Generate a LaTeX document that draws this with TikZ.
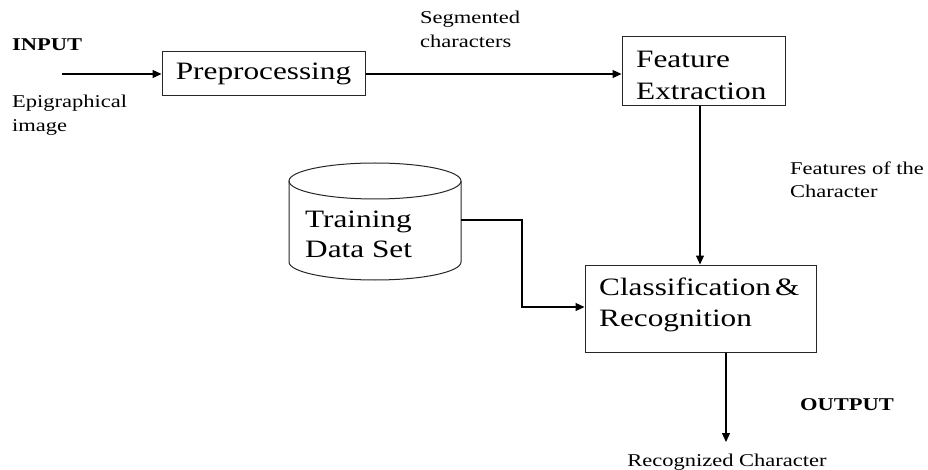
\documentclass[tikz,border=0pt]{standalone}
\usepackage{fontspec}
\setmainfont{Liberation Serif}[FakeStretch=1.25]
\usetikzlibrary{arrows.meta}
\newcommand\bigtxt{\fontsize{25}{31}\selectfont}
\newcommand\smalltxt{\fontsize{18}{24}\selectfont}
\begin{document}
\begin{tikzpicture}[x=1pt,y=-1pt,
  box/.style={draw=black!85,line width=1pt,inner sep=0pt,font=\bigtxt},
  btxt/.style={inner sep=0pt,align=left,anchor=west},
  lbl/.style={inner sep=0pt,font=\smalltxt,align=left,anchor=west},
  conn/.style={line width=1.1pt,-{Triangle[length=9pt,width=8pt]}}]
\useasboundingbox (0,0) rectangle (928,470);
% boxes
\node[box,minimum width=203pt,minimum height=44pt] (pre) at (263.5,74) {Preprocessing};
\node[box,minimum width=163pt,minimum height=69pt] (fe) at (703.5,71.5) {};
\node[btxt,font=\fontsize{25}{32}\selectfont] (fet) at (636,75) {Feature\\Extraction};
\node[box,minimum width=231pt,minimum height=87pt] (cr) at (700.5,308.5) {};
\node[btxt,font=\bigtxt] (crt) at (599,304.5) {Classification\,\&\\Recognition};
% cylinder
\draw[draw=black!85,line width=1pt] (289,181) -- (289,262) arc[start angle=180,end angle=360,x radius=86pt,y radius=18pt] -- (461,181);
\draw[draw=black!85,line width=1pt] (375,181) ellipse[x radius=86pt,y radius=18pt];
\node[btxt,font=\fontsize{25}{30}\selectfont] (tds) at (305,234) {Training\\Data Set};
\coordinate (cylr) at (461,220);
% labels
\node[lbl,font=\smalltxt\bfseries] (inp) at (12,45) {INPUT};
\node[lbl] (epi) at (12,115) {Epigraphical\\image};
\node[lbl] (seg) at (420,29) {Segmented\\characters};
\node[lbl,font=\fontsize{18}{23}\selectfont] (fof) at (790,180) {Features of the\\Character};
\node[lbl,font=\smalltxt\bfseries] (out) at (800,405) {OUTPUT};
\node[inner sep=0pt,font=\smalltxt] (rc) at (727,462) {Recognized Character};
\coordinate (start) at (62,74);
\coordinate (endp) at (726,442);
% connectors
\draw[conn] (start) -- (pre.west);
\draw[conn] (pre.east) -- (fe.west |- pre.east);
\draw[conn] (fe.south -| 700,0) -- (cr.north -| 700,0);
\draw[conn] (cylr) -- (522,220) -- (522,307) -- (cr.west |- 0,307);
\draw[conn] (cr.south -| endp) -- (endp);
\end{tikzpicture}
\end{document}
